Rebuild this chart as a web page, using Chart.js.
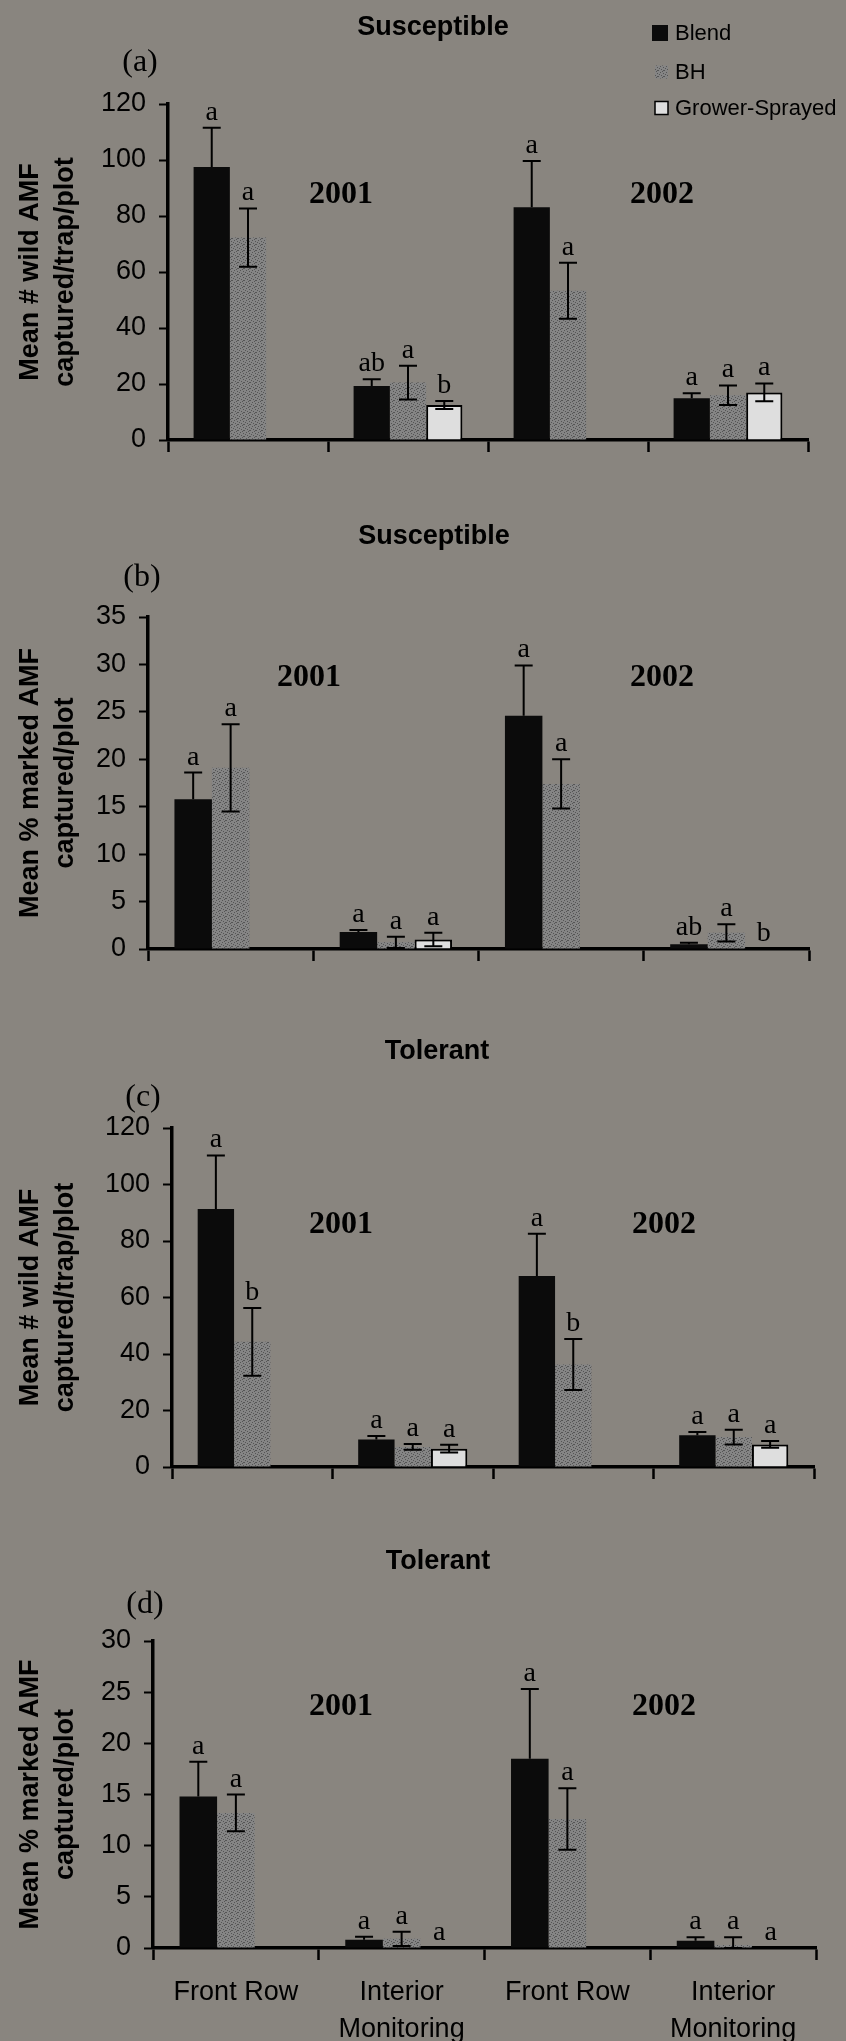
<!DOCTYPE html>
<html>
<head>
<meta charset="utf-8">
<script src="https://cdn.jsdelivr.net/npm/chart.js@4.4.1/dist/chart.umd.min.js"></script>
<style>
  html, body { margin: 0; padding: 0; }
  body { width: 846px; height: 2041px; background: #89857f; position: relative; overflow: hidden; }
  canvas { position: absolute; left: 0; }
</style>
</head>
<body>
<canvas id="panelA" width="846" height="480" style="top:0px"></canvas>
<canvas id="panelB" width="846" height="510" style="top:480px"></canvas>
<canvas id="panelC" width="846" height="510" style="top:990px"></canvas>
<canvas id="panelD" width="846" height="541" style="top:1500px"></canvas>
<script>
// ---- shared labels ----
const categories = [['Front Row'], ['Interior', 'Monitoring'], ['Front Row'], ['Interior', 'Monitoring']];
const seriesNames = ['Blend', 'BH', 'Grower-Sprayed'];
const years = ['2001', '2002'];

// ---- (a) wild AMF per trap, susceptible ----
const wildSuscBlend   = [97.5, 19.3, 83.1, 14.9];
const wildSuscBlendSE = [14.0, 2.4, 16.5, 1.8];
const wildSuscBH      = [72.3, 20.5, 53.3, 16.0];
const wildSuscBHSE    = [10.4, 6.0, 10.0, 3.5];
const wildSuscGS      = [0, 12.5, 0, 17.0];
const wildSuscGSSE    = [0, 1.4, 0, 3.2];
const wildSuscLetters = [['a', 'ab', 'a', 'a'], ['a', 'a', 'a', 'a'], ['', 'b', '', 'a']];

// ---- (b) % marked AMF, susceptible ----
const markSuscBlend   = [15.8, 1.8, 24.6, 0.5];
const markSuscBlendSE = [2.8, 0.2, 5.3, 0.15];
const markSuscBH      = [19.1, 0.7, 17.4, 1.7];
const markSuscBHSE    = [4.6, 0.6, 2.6, 0.9];
const markSuscGS      = [0, 1.0, 0, 0];
const markSuscGSSE    = [0, 0.7, 0, 0];
const markSuscLetters = [['a', 'a', 'a', 'ab'], ['a', 'a', 'a', 'a'], ['', 'a', '', 'b']];

// ---- (c) wild AMF per trap, tolerant ----
const wildTolBlend   = [91.3, 9.7, 67.6, 11.2];
const wildTolBlendSE = [19.0, 1.3, 15.0, 1.2];
const wildTolBH      = [44.3, 7.1, 36.3, 10.6];
const wildTolBHSE    = [12.0, 1.0, 9.0, 2.6];
const wildTolGS      = [0, 6.5, 0, 8.0];
const wildTolGSSE    = [0, 1.4, 0, 1.2];
const wildTolLetters = [['a', 'a', 'a', 'a'], ['b', 'a', 'b', 'a'], ['', 'a', '', 'a']];

// ---- (d) % marked AMF, tolerant ----
const markTolBlend   = [14.8, 0.8, 18.5, 0.7];
const markTolBlendSE = [3.4, 0.3, 6.8, 0.35];
const markTolBH      = [13.2, 0.9, 12.6, 0.3];
const markTolBHSE    = [1.8, 0.7, 3.0, 0.75];
const markTolGS      = [0, 0, 0, 0];
const markTolGSSE    = [0, 0, 0, 0];
const markTolLetters = [['a', 'a', 'a', 'a'], ['a', 'a', 'a', 'a'], ['', 'a', '', 'a']];

// ---- styling ----
Chart.defaults.font.family = "'Liberation Sans', Arial, sans-serif";
Chart.defaults.color = '#000';

// fine dot screen used for the BH bars
function stipple() {
  const c = document.createElement('canvas');
  c.width = 6; c.height = 6;
  const g = c.getContext('2d');
  g.fillStyle = '#858585';
  g.fillRect(0, 0, 6, 6);
  g.fillStyle = '#555555';
  [[0, 0], [3, 1], [1, 3], [4, 4], [5, 2], [2, 5], [3, 4]].forEach(([x, y]) => g.fillRect(x, y, 1, 1));
  return g.createPattern(c, 'repeat');
}
const fills = ['#0b0b0b', stipple(), '#dedede'];

// Draws error bars, significance letters, panel title, panel tag, year labels and legend
const decor = {
  id: 'panelDecor',
  afterDatasetsDraw(chart) {
    const ctx = chart.ctx, y = chart.scales.y;
    ctx.save();
    ctx.strokeStyle = '#000';
    ctx.lineWidth = 2;
    chart.data.datasets.forEach((ds, di) => {
      const meta = chart.getDatasetMeta(di);
      meta.data.forEach((bar, i) => {
        const e = ds.errors[i];
        if (!e) return;
        const v = ds.data[i];
        const yt = y.getPixelForValue(v + e);
        // the lower whisker of the solid black bars is lost in the fill
        const yb = di === 0 ? y.getPixelForValue(v) : y.getPixelForValue(Math.max(0, v - e));
        ctx.beginPath();
        ctx.moveTo(bar.x, yb); ctx.lineTo(bar.x, yt);
        ctx.moveTo(bar.x - 9, yt); ctx.lineTo(bar.x + 9, yt);
        if (di !== 0) { ctx.moveTo(bar.x - 9, yb); ctx.lineTo(bar.x + 9, yb); }
        ctx.stroke();
      });
    });
    ctx.restore();
  },
  afterDraw(chart, args, opts) {
    const ctx = chart.ctx, y = chart.scales.y;
    ctx.save();
    ctx.fillStyle = '#000';
    // significance letters
    ctx.font = "28px 'Liberation Serif', 'Times New Roman', serif";
    ctx.textAlign = 'center';
    ctx.textBaseline = 'alphabetic';
    chart.data.datasets.forEach((ds, di) => {
      const meta = chart.getDatasetMeta(di);
      meta.data.forEach((bar, i) => {
        const t = ds.letters[i];
        if (!t) return;
        const top = y.getPixelForValue(ds.data[i] + (ds.errors[i] || 0));
        ctx.fillText(t, bar.x, top - 8);
      });
    });
    // panel title
    ctx.font = "bold 27px 'Liberation Sans', Arial, sans-serif";
    ctx.textBaseline = 'middle';
    ctx.fillText(opts.title, opts.titleX, opts.titleY);
    // panel tag
    ctx.font = "32px 'Liberation Serif', 'Times New Roman', serif";
    ctx.fillText(opts.tag, opts.tagX, opts.tagY);
    // year labels
    ctx.font = "bold 32px 'Liberation Serif', 'Times New Roman', serif";
    years.forEach((yr, k) => ctx.fillText(yr, opts.yearX[k], opts.yearY));
    // legend
    if (opts.legend) {
      ctx.textAlign = 'left';
      ctx.font = "22px 'Liberation Sans', Arial, sans-serif";
      const rows = [33, 72, 108];
      const sizes = [16, 13, 13];
      chart.data.datasets.forEach((ds, di) => {
        const s = sizes[di], cy = rows[di];
        ctx.fillStyle = ds.backgroundColor;
        ctx.fillRect(668 - s, cy - s / 2, s, s);
        if (di === 2) {
          ctx.strokeStyle = '#000';
          ctx.lineWidth = 1.5;
          ctx.strokeRect(668 - s, cy - s / 2, s, s);
        }
        ctx.fillStyle = '#000';
        ctx.fillText(ds.label, 675, cy + 1);
      });
    }
    ctx.restore();
  }
};

function buildPanel(id, p) {
  const datasets = p.values.map((vals, i) => ({
    label: seriesNames[i],
    data: vals,
    errors: p.errors[i],
    letters: p.letters[i],
    backgroundColor: fills[i],
    borderColor: '#000',
    borderWidth: i === 2 ? 2 : 0,
    barPercentage: 1,
    categoryPercentage: 0.68
  }));
  new Chart(document.getElementById(id), {
    type: 'bar',
    data: { labels: categories, datasets },
    options: {
      responsive: false,
      animation: false,
      events: [],
      layout: { padding: { top: p.top, right: 846 - p.right, left: 0, bottom: 0 } },
      plugins: {
        legend: { display: false },
        tooltip: { enabled: false },
        panelDecor: p.decor
      },
      scales: {
        x: {
          z: 1,
          offset: true,
          grid: { offset: true, drawOnChartArea: false, tickLength: 12, tickWidth: 2.5, color: '#000' },
          border: { color: '#000', width: 3.5 },
          ticks: { display: p.showCats, font: { size: 27, lineHeight: 1.37 }, color: '#000', padding: 14, maxRotation: 0, autoSkip: false },
          afterFit: s => { s.height = p.xh; }
        },
        y: {
          z: 1,
          min: 0,
          max: p.max,
          ticks: { stepSize: p.step, font: { size: 27 }, color: '#000', padding: 13 },
          grid: { drawOnChartArea: false, tickLength: 9, tickWidth: 2, color: '#000' },
          border: { color: '#000', width: 3.5 },
          title: { display: true, text: p.yTitle, color: '#000', font: { size: 27, weight: 'bold', lineHeight: 1.3 }, padding: { top: 13, bottom: 0 } },
          afterFit: s => { s.width = p.left; }
        }
      }
    },
    plugins: [decor]
  });
}

const wildTitle = ['Mean # wild AMF', 'captured/trap/plot'];
const markTitle = ['Mean % marked AMF', 'captured/plot'];

buildPanel('panelA', {
  values: [wildSuscBlend, wildSuscBH, wildSuscGS],
  errors: [wildSuscBlendSE, wildSuscBHSE, wildSuscGSSE],
  letters: wildSuscLetters,
  max: 120, step: 20, yTitle: wildTitle,
  top: 104, left: 168, right: 808, xh: 40, showCats: false,
  decor: { title: 'Susceptible', titleX: 433, titleY: 28, tag: '(a)', tagX: 140, tagY: 63, yearX: [341, 662], yearY: 195, legend: true }
});
buildPanel('panelB', {
  values: [markSuscBlend, markSuscBH, markSuscGS],
  errors: [markSuscBlendSE, markSuscBHSE, markSuscGSSE],
  letters: markSuscLetters,
  max: 35, step: 5, yTitle: markTitle,
  top: 137, left: 148, right: 809, xh: 41, showCats: false,
  decor: { title: 'Susceptible', titleX: 434, titleY: 57, tag: '(b)', tagX: 142, tagY: 98, yearX: [309, 662], yearY: 198, legend: false }
});
buildPanel('panelC', {
  values: [wildTolBlend, wildTolBH, wildTolGS],
  errors: [wildTolBlendSE, wildTolBHSE, wildTolGSSE],
  letters: wildTolLetters,
  max: 120, step: 20, yTitle: wildTitle,
  top: 138, left: 172, right: 814, xh: 33, showCats: false,
  decor: { title: 'Tolerant', titleX: 437, titleY: 62, tag: '(c)', tagX: 143, tagY: 108, yearX: [341, 664], yearY: 235, legend: false }
});
buildPanel('panelD', {
  values: [markTolBlend, markTolBH, markTolGS],
  errors: [markTolBlendSE, markTolBHSE, markTolGSSE],
  letters: markTolLetters,
  max: 30, step: 5, yTitle: markTitle,
  top: 141, left: 153, right: 816, xh: 93, showCats: true,
  decor: { title: 'Tolerant', titleX: 438, titleY: 62, tag: '(d)', tagX: 145, tagY: 105, yearX: [341, 664], yearY: 207, legend: false }
});
</script>
</body>
</html>
